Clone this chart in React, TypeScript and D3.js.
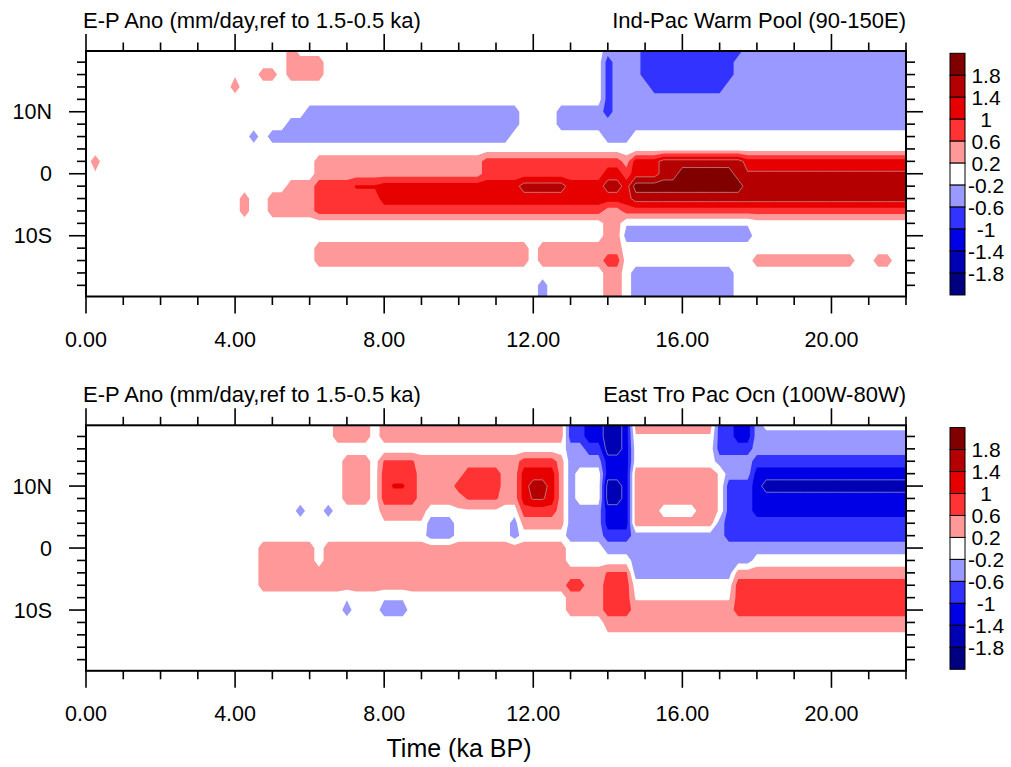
import React, { useEffect, useRef } from 'react';
import * as d3 from 'd3';

const svgWidth = 1011;
const svgHeight = 767;

// layout
const plotLeft = 86;
const plotRight = 906;
const plotHeight = 245.5;
const panelTops = [51, 425.3];
const latExtent = 19.8;
const fontFamily = "'Liberation Sans', Arial, Helvetica, sans-serif";

// sampling grid: time (ka BP) across, latitude down (north first)
const TIME_STEP = 0.25;
const TIMES = d3.range(0, 22 + TIME_STEP / 2, TIME_STEP);
const LATS = [20, 18, 16, 14, 12, 10, 8, 6, 4, 2, 0, -2, -4, -6, -8, -10, -12, -14, -16, -18, -20];

// contour levels (mm/day) and fill colours from low to high
const LEVELS = [-1.8, -1.4, -1, -0.6, -0.2, 0.2, 0.6, 1, 1.4, 1.8];
const COLORS = ['#000080', '#0000b4', '#0000e6', '#3333ff', '#9999ff', '#ffffff',
    '#ff9999', '#ff3333', '#e60000', '#b40000', '#800000'];
const BAR_LABELS = ['1.8', '1.4', '1', '0.6', '0.2', '-0.2', '-0.6', '-1', '-1.4', '-1.8'];

// anomaly read for a code; upper case = just above a level, , ; = just inside white
const CODE_VALUES: Record<string, number> = {
    '.': 0, ',': 0.15, ';': -0.15,
    '1': 0.4, '2': 0.8, '3': 1.2, '4': 1.6, '5': 2.0,
    'B': 0.65, 'C': 1.05, 'D': 1.45,
    'a': -0.4, 'b': -0.8, 'c': -1.2, 'd': -1.6, 'e': -2.0,
};

// Ind-Pac Warm Pool: per latitude row (20N..20S) the time spans [from, to, code]
const WARM_POOL = [
    [[5.5, 5.5, '1'], [14, 14.75, 'a'], [15, 17.5, 'b'], [17.75, 22, 'a']],
    [[5.5, 6.25, '1'], [14, 14, 'b'], [14.25, 14.75, 'a'], [15, 17.25, 'b'], [17.5, 22, 'a']],
    [[4, 4, ','], [4.75, 5, '1'], [5.5, 6.25, '1'], [14, 14, 'b'], [14.25, 14.75, 'a'], [15, 17.25, 'b'], [17.5, 22, 'a']],
    [[4, 4, '1'], [14, 14, 'b'], [14.25, 15, 'a'], [15.25, 17, 'b'], [17.25, 22, 'a']],
    [[14, 14, 'b'], [14.25, 22, 'a']],
    [[6, 11.5, 'a'], [12.75, 13.75, 'a'], [14, 14, 'b'], [14.25, 22, 'a']],
    [[5.5, 11.5, 'a'], [12.75, 22, 'a']],
    [[4.5, 4.5, 'a'], [5, 11.25, 'a'], [14, 14.5, 'a']],
    [],
    [[0.25, 0.25, '1'], [6.25, 10.5, '1'], [10.75, 14.25, '2'], [14.5, 14.5, '1'], [14.75, 15.25, '3'], [15.5, 17.5, '4'], [17.75, 22, '3']],
    [[0.25, 0.25, ','], [6.25, 10.5, '1'], [10.75, 13.75, '2'], [14, 14.25, '3'], [14.5, 14.5, '2'], [14.75, 15.25, '3'], [15.5, 15.75, '4'], [16, 17.25, '5'], [17.5, 17.5, '4'], [17.75, 22, 'D']],
    [[5.5, 6, '1'], [6.25, 7, '2'], [7.25, 7.75, 'C'], [8, 11.5, '3'], [11.75, 12.75, '4'], [13, 13.75, '3'], [14, 14.25, '4'], [14.5, 14.5, '3'], [14.75, 17.5, '5'], [17.75, 22, '4']],
    [[4.25, 4.25, '1'], [5, 6, '1'], [6.25, 7.75, '2'], [8, 14.5, '3'], [14.75, 22, '4']],
    [[4.25, 4.25, '1'], [5, 6, '1'], [6.25, 13.75, '2'], [14, 14.25, '1'], [14.5, 22, '2']],
    [[14, 14.25, '1'], [14.5, 17.75, ';']],
    [[14, 14.25, '1'], [14.5, 17.75, 'a']],
    [[6.25, 11.75, '1'], [12.25, 14.25, '1']],
    [[6.25, 11.75, '1'], [12.25, 13.75, '1'], [14, 14.25, '2'], [18, 20.5, '1'], [21.25, 21.5, '1']],
    [[14, 14.25, '1'], [14.75, 17.25, 'a']],
    [[12.25, 12.25, 'a'], [14, 14.25, '1'], [14.75, 17.25, 'a']],
    [[12.25, 12.25, 'a'], [14, 14.25, '1'], [14.75, 17.25, 'a']],
];

// East Tropical Pacific, same layout
const EAST_PAC = [
    [[6.75, 7.5, '1'], [8, 12.75, '1'], [13, 13.25, 'b'], [13.5, 13.75, 'c'], [14, 14.25, 'd'], [14.5, 14.5, 'c'], [14.75, 16.75, '1'], [17, 17.25, 'b'], [17.5, 17.75, 'c'], [18, 18, 'a']],
    [[6.75, 7.5, '1'], [8, 12.75, '1'], [13, 13.25, 'b'], [13.5, 13.75, 'c'], [14, 14.25, 'd'], [14.5, 14.5, 'c'], [14.75, 16.75, ','], [17, 17.25, 'b'], [17.5, 17.75, 'c'], [18, 22, 'a']],
    [[13, 13.25, 'a'], [13.5, 13.75, 'b'], [14, 14.25, 'd'], [14.5, 14.5, 'c'], [17, 17.75, 'b'], [18, 22, 'a']],
    [[7, 7.5, '1'], [8, 8.75, 'B'], [9, 9.75, '1'], [10, 11.5, '1'], [11.75, 12.5, '2'], [12.75, 12.75, '1'], [13, 13.75, 'a'], [14, 14.5, 'c'], [17, 17.75, 'a'], [18, 22, 'b']],
    [[7, 7.5, '1'], [8, 8.75, '2'], [9, 10, '1'], [10.25, 11, '2'], [11.25, 11.5, '1'], [11.75, 12.5, '3'], [12.75, 12.75, '1'], [13, 13, 'a'], [14, 14.5, 'c'], [14.75, 16.75, '1'], [17, 17, ','], [17.25, 17.75, 'a'], [18, 22, 'c']],
    [[7, 7.5, '1'], [8, 8, '2'], [8.25, 8.5, 'C'], [8.75, 8.75, '2'], [9, 9.75, '1'], [10, 11, '2'], [11.25, 11.5, '1'], [11.75, 11.75, '3'], [12, 12.25, '4'], [12.5, 12.5, '3'], [12.75, 12.75, '1'], [13, 13, 'a'], [14, 14.25, 'd'], [14.5, 14.5, 'c'], [14.75, 16.75, '1'], [17, 17, ','], [17.25, 17.75, 'b'], [18, 18, 'c'], [18.25, 22, 'd']],
    [[7, 7.5, '1'], [8, 8.75, '2'], [9, 10, '1'], [10.25, 11, 'B'], [11.25, 11.5, '1'], [11.75, 11.75, '3'], [12, 12.25, 'D'], [12.5, 12.5, '3'], [12.75, 12.75, '1'], [13, 13, 'a'], [14, 14.25, 'd'], [14.5, 14.5, 'c'], [14.75, 16.75, '1'], [17, 17, ','], [17.25, 17.75, 'b'], [18, 22, 'c']],
    [[5.75, 5.75, 'a'], [6.5, 6.5, 'a'], [8, 9, '1'], [10, 11, ','], [11.75, 12.5, '2'], [12.75, 12.75, '1'], [13, 13.75, 'a'], [14, 14.5, 'c'], [14.75, 15.25, '1'], [16.5, 16.75, '1'], [17, 17, ','], [17.25, 17.75, 'b'], [18, 22, 'c']],
    [[8, 9, ','], [9.25, 9.75, 'a'], [11.5, 11.5, 'a'], [11.75, 12.75, '1'], [13, 13.75, 'a'], [14, 14.5, 'c'], [14.75, 16.75, '1'], [17, 17, 'a'], [17.25, 22, 'b']],
    [[9.25, 9.75, 'a'], [11.5, 11.5, 'a'], [13, 13.75, 'a'], [14, 14.5, 'b'], [14.75, 17, 'a'], [17.25, 22, 'b']],
    [[4.75, 12.75, '1'], [6.25, 6.25, '.'], [14, 22, 'a']],
    [[4.75, 12.75, '1'], [6.25, 6.25, '.'], [14.75, 17.75, 'a']],
    [[4.75, 13.75, '1'], [14, 14.5, 'B'], [14.75, 17.25, 'a'], [17.5, 22, '1']],
    [[4.75, 12.75, '1'], [13, 13.25, '2'], [13.5, 13.75, '1'], [14, 14.5, '2'], [17.5, 22, '2']],
    [[7, 7, ';'], [8, 8.5, ';'], [13, 13.75, '1'], [14, 14.5, '2'], [14.75, 17.25, ','], [17.5, 22, '2']],
    [[7, 7, 'a'], [8, 8.5, 'a'], [13, 13.75, '1'], [14, 14.5, '2'], [14.75, 17.25, '1'], [17.5, 22, '2']],
    [[14, 22, '1']],
    [[14, 22, ',']],
    [],
    [],
    [],
];

const LEFT_TITLES = ['E-P Ano (mm/day,ref to 1.5-0.5 ka)', 'E-P Ano (mm/day,ref to 1.5-0.5 ka)'];
const RIGHT_TITLES = ['Ind-Pac Warm Pool (90-150E)', 'East Tro Pac Ocn (100W-80W)'];
const FIELDS: any[] = [WARM_POOL, EAST_PAC];

const X_TICKS = [0, 4, 8, 12, 16, 20];
const LAT_TICKS = [10, 0, -10];
const LAT_LABELS = ['10N', '0', '10S'];

const gridValues = (rows: any[]) => {
    const values: number[] = [];
    rows.forEach((spans: any[]) => {
        const line = TIMES.map(() => 0);
        spans.forEach(([from, to, code]) => {
            TIMES.forEach((t, i) => {
                if (t >= from - 1e-6 && t <= to + 1e-6) line[i] = CODE_VALUES[code];
            })
        })
        values.push(...line);
    })
    return values;
}

const drawPanel = (svg: any, p: number) => {
    const top = panelTops[p];
    const bottom = top + plotHeight;
    const xScale = d3.scaleLinear().domain([0, 22]).range([plotLeft, plotRight]);
    const yScale = d3.scaleLinear().domain([-latExtent, latExtent]).range([bottom, top]);

    const n = TIMES.length;
    const m = LATS.length;
    const dlat = LATS[0] - LATS[1];
    const values = gridValues(FIELDS[p]);

    const path = d3.geoPath(d3.geoTransform({
        point: function (x: number, y: number) {
            this.stream.point(xScale(TIMES[0] + (x - 0.5) * TIME_STEP), yScale(LATS[0] - (y - 0.5) * dlat));
        }
    }));

    const clipId = 'plot-clip-' + p;
    svg.append('clipPath').attr('id', clipId)
        .append('rect')
        .attr('x', plotLeft).attr('y', top)
        .attr('width', plotRight - plotLeft).attr('height', plotHeight);

    const field = svg.append('g').attr('clip-path', `url(#${clipId})`);
    field.append('rect')
        .attr('x', plotLeft).attr('y', top)
        .attr('width', plotRight - plotLeft).attr('height', plotHeight)
        .attr('fill', '#fff');

    const positive = LEVELS.filter(l => l > 0);
    const contours = d3.contours().size([n, m]).thresholds(positive);

    const warm = contours(values);
    const cold = contours(values.map(v => -v));

    warm.forEach(c => {
        field.append('path').attr('d', path(c))
            .attr('fill', COLORS[LEVELS.indexOf(c.value) + 1]);
    })
    cold.forEach(c => {
        field.append('path').attr('d', path(c))
            .attr('fill', COLORS[LEVELS.indexOf(-c.value)]);
    })
    // faint contour lines on the strongest levels only
    warm.concat(cold).filter(c => c.value >= 1.4).forEach(c => {
        field.append('path').attr('d', path(c))
            .attr('fill', 'none')
            .attr('stroke', '#c8c8c8')
            .attr('stroke-opacity', 0.55)
            .attr('stroke-width', 1);
    })

    // frame
    svg.append('rect')
        .attr('x', plotLeft).attr('y', top)
        .attr('width', plotRight - plotLeft).attr('height', plotHeight)
        .attr('fill', 'none').attr('stroke', '#000').attr('stroke-width', 2);

    // ticks
    const ticks = svg.append('g').attr('stroke', '#000').attr('stroke-width', 1.6);
    xScale.ticks(22).forEach((t: number) => {
        const len = X_TICKS.includes(t) ? 17 : 8.5;
        const x = xScale(t);
        ticks.append('line').attr('x1', x).attr('x2', x).attr('y1', bottom).attr('y2', bottom + len);
        ticks.append('line').attr('x1', x).attr('x2', x).attr('y1', top).attr('y2', top - len);
    })
    yScale.ticks(20).forEach((lat: number) => {
        const len = LAT_TICKS.includes(lat) ? 17 : 9;
        const y = yScale(lat);
        ticks.append('line').attr('x1', plotLeft - len).attr('x2', plotLeft).attr('y1', y).attr('y2', y);
        ticks.append('line').attr('x1', plotRight).attr('x2', plotRight + len).attr('y1', y).attr('y2', y);
    })

    const labels = svg.append('g')
        .attr('font-family', fontFamily)
        .attr('fill', '#000');

    labels.selectAll('.xlabel')
        .data(X_TICKS)
        .enter()
        .append('text')
        .attr('x', (d: number) => xScale(d))
        .attr('y', bottom + 50.5)
        .attr('text-anchor', 'middle')
        .attr('font-size', 21.5)
        .text((d: number) => d3.format('.2f')(d));

    labels.selectAll('.ylabel')
        .data(LAT_TICKS)
        .enter()
        .append('text')
        .attr('x', 52)
        .attr('y', (d: number) => yScale(d) + 7.7)
        .attr('text-anchor', 'end')
        .attr('font-size', 21.5)
        .text((d: number, i: number) => LAT_LABELS[i]);

    labels.append('text')
        .attr('x', 83).attr('y', top - 23)
        .attr('font-size', 22)
        .text(LEFT_TITLES[p]);
    labels.append('text')
        .attr('x', plotRight).attr('y', top - 23)
        .attr('text-anchor', 'end')
        .attr('font-size', 22)
        .text(RIGHT_TITLES[p]);

    // colour bar
    const barTop = top + 2.3;
    const boxH = 21.97;
    const bar = svg.append('g');
    COLORS.slice().reverse().forEach((c, i) => {
        bar.append('rect')
            .attr('x', 950).attr('y', barTop + i * boxH)
            .attr('width', 15).attr('height', boxH)
            .attr('fill', c).attr('stroke', '#000').attr('stroke-width', 1);
    })
    BAR_LABELS.forEach((l, i) => {
        bar.append('text')
            .attr('x', 986).attr('y', barTop + (i + 1) * boxH)
            .attr('dy', '0.36em')
            .attr('text-anchor', 'middle')
            .attr('font-family', fontFamily)
            .attr('font-size', 21)
            .text(l);
    })
}

const App = () => {
    const ref = useRef<SVGSVGElement>(null);

    useEffect(() => {
        const svg = d3.select(ref.current);
        svg.selectAll('*').remove();
        drawPanel(svg, 0);
        drawPanel(svg, 1);
        svg.append('text')
            .attr('x', 459).attr('y', 757)
            .attr('text-anchor', 'middle')
            .attr('font-family', fontFamily)
            .attr('font-size', 25)
            .text('Time (ka BP)');
    }, []);

    return (
        <svg ref={ref}
            width={svgWidth}
            height={svgHeight}
            style={{ position: 'absolute', left: 0, top: 0, background: '#fff' }}>
        </svg>
    );
}

export default App;
